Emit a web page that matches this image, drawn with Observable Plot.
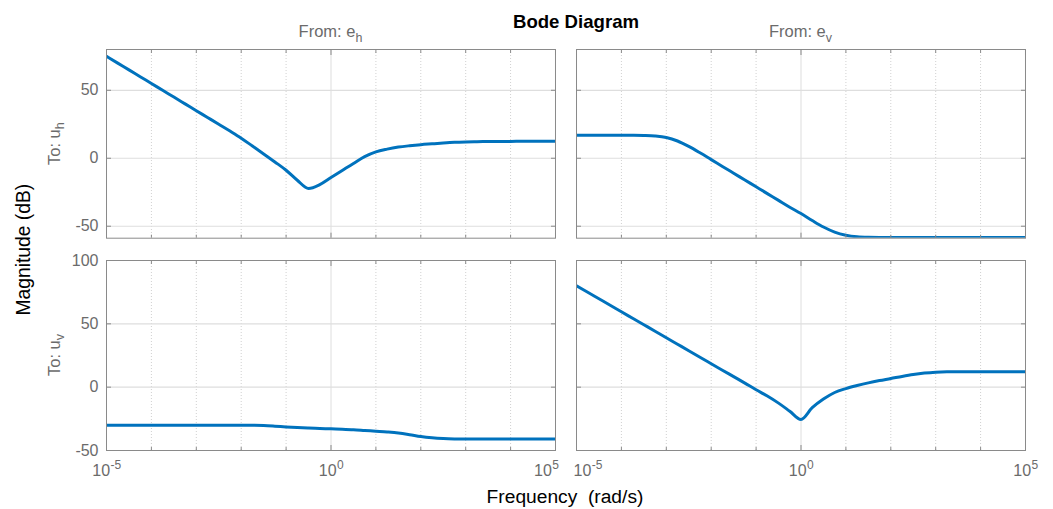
<!DOCTYPE html>
<html>
<head>
<meta charset="utf-8">
<script src="https://cdn.jsdelivr.net/npm/d3@7"></script>
<script src="https://cdn.jsdelivr.net/npm/@observablehq/plot@0.6"></script>
<style>
html, body { margin: 0; padding: 0; background: #fff; }
#chart { position: relative; width: 1053px; height: 509px; overflow: hidden; background: #fff;
  font-family: "Liberation Sans", Arial, Helvetica, sans-serif; }
#chart svg { position: absolute; }
</style>
</head>
<body>
<div id="chart"></div>
<script>
// ---------------- data ----------------
// log10 of frequency (rad/s)
const freqExp = [-5, -4.75, -4.5, -4.25, -4, -3.75, -3.5, -3.25, -3, -2.75, -2.5, -2.25, -2, -1.75, -1.5, -1.25, -1, -0.75, -0.5, -0.25,
  0, 0.25, 0.5, 0.75, 1, 1.25, 1.5, 1.75, 2, 2.25, 2.5, 2.75, 3, 3.25, 3.5, 3.75, 4, 4.25, 4.5, 4.75, 5];
// Magnitude (dB): From e_h To u_h
const uhFromEh = [75, 70, 65, 60, 55, 50, 45, 40, 35, 30, 25, 20, 14.8, 9, 3.2, -2.7, -8.8, -16.2, -22.2, -19.4,
  -14.2, -9, -3.8, 1.2, 4.7, 6.7, 8.2, 9.2, 10, 10.6, 11.2, 11.7, 12, 12.2, 12.3, 12.4, 12.4, 12.5, 12.5, 12.5, 12.5];
// From e_v To u_h
const uhFromEv = [17, 17, 17, 17, 17, 16.95, 16.8, 16.4, 15.3, 12.7, 8.7, 4, -1, -6, -11, -16, -21, -26, -31, -36,
  -40.7, -45.8, -50.6, -54.3, -56.6, -57.8, -58.2, -58.3, -58.3, -58.3, -58.3, -58.3, -58.3, -58.3, -58.3, -58.3, -58.3, -58.3, -58.3, -58.3, -58.3];
// From e_h To u_v
const uvFromEh = [-30, -30, -30, -30, -30, -30, -30, -30, -30, -30, -30, -30, -30, -30.1, -30.3, -30.8, -31.4, -31.9, -32.3, -32.6,
  -32.9, -33.2, -33.6, -34.2, -34.8, -35.4, -36.2, -37.5, -39, -40, -40.6, -40.9, -41, -41, -41, -41, -41, -41, -41, -41, -41];
// From e_v To u_v
const uvFromEv = [80, 74.9, 69.8, 64.7, 59.5, 54.4, 49.3, 44.2, 39, 33.9, 28.8, 23.6, 18.5, 13.4, 8.3, 3.2, -2, -7, -12.6, -19,
  -25.5, -16.2, -9.4, -4.2, -1.1, 1.3, 3.4, 5.2, 6.8, 8.5, 10, 11.1, 11.8, 12.1, 12.1, 12.1, 12.1, 12.1, 12.1, 12.1, 12.1];

const inputNames = ["h", "v"];   // From: e_h, e_v (columns)
const outputNames = ["h", "v"];  // To: u_h, u_v (rows)
const majorXTicks = [1e-5, 1e0, 1e5];
const minorXTicks = [1e-4, 1e-3, 1e-2, 1e-1, 1e1, 1e2, 1e3, 1e4];
const topYTicks = [-50, 0, 50];
const bottomYTicks = [-50, 0, 50, 100];
const topYDomain = [-58.8, 80];
const bottomYDomain = [-50, 100];
const xDomain = [1e-5, 1e5];

const titleText = "Bode Diagram";
const yLabelText = "Magnitude (dB)";
const xLabelText = "Frequency  (rad/s)";

// ---------------- styling / layout ----------------
const FONT = '"Liberation Sans", Arial, Helvetica, sans-serif';
const LINE = "#0072BD";
const AXIS = "#8a8a8a";
const TEXT = "#6b6b6b";
const GRID_MAJOR = "#dedede";
const GRID_MINOR = "#d0d0d0";
const W = 449;
const colX = [106, 576];
const rowY = [49.3, 260];
const rowH = [188.7, 190];
const TICK_FS = 16;
const EXP_FS = 12;

const chart = document.getElementById("chart");

const series = [
  {row: 0, col: 0, values: uhFromEh},
  {row: 0, col: 1, values: uhFromEv},
  {row: 1, col: 0, values: uvFromEh},
  {row: 1, col: 1, values: uvFromEv}
];

function charW(str, fs) {
  let w = 0;
  for (const ch of str) w += (ch === "-" ? 0.333 : 0.556) * fs;
  return w;
}

for (const s of series) {
  const data = freqExp.map((e, i) => ({f: Math.pow(10, e), db: s.values[i]}));
  const yTicks = s.row === 0 ? topYTicks : bottomYTicks;
  const yDomain = s.row === 0 ? topYDomain : bottomYDomain;
  const L = s.col === 0 ? 70 : 8, R = 8, T = 10, B = s.row === 1 ? 50 : 8;
  const H = rowH[s.row];
  const marks = [
    Plot.ruleX(minorXTicks, {stroke: GRID_MINOR, strokeDasharray: "1,2", strokeWidth: 1}),
    Plot.ruleX([1e0], {stroke: GRID_MAJOR, strokeWidth: 1}),
    Plot.ruleY(yTicks, {stroke: GRID_MAJOR, strokeWidth: 1.2}),
    Plot.line(data, {x: "f", y: "db", stroke: LINE, strokeWidth: 3, curve: "monotone-x", clip: true}),
    Plot.frame({stroke: AXIS, strokeWidth: 1}),
    Plot.axisX({anchor: "bottom", ticks: minorXTicks, tickSize: 3, dy: -3, fill: "none", stroke: AXIS, label: null}),
    Plot.axisX({anchor: "bottom", ticks: majorXTicks, tickSize: 5, dy: -5, fill: "none", stroke: AXIS, label: null}),
    Plot.axisX({anchor: "top", ticks: minorXTicks, tickSize: 3, dy: 3, fill: "none", stroke: AXIS, label: null}),
    Plot.axisX({anchor: "top", ticks: majorXTicks, tickSize: 5, dy: 5, fill: "none", stroke: AXIS, label: null}),
    Plot.axisY({anchor: "left", ticks: yTicks, tickSize: 5, dx: 5, fill: "none", stroke: AXIS, label: null}),
    Plot.axisY({anchor: "right", ticks: yTicks, tickSize: 5, dx: -5, fill: "none", stroke: AXIS, label: null})
  ];
  if (s.col === 0) {
    marks.push(Plot.axisY({anchor: "left", ticks: yTicks, tickSize: 0, tickPadding: 8,
      tickFormat: d => String(d), fill: TEXT, stroke: "none", label: null}));
  }
  if (s.row === 1) {
    for (const t of majorXTicks) {
      const exp = String(Math.round(Math.log10(t)));
      const baseW = charW("10", TICK_FS), expW = charW(exp, EXP_FS);
      const total = baseW + expW;
      let split = baseW - total / 2;   // where "10" ends relative to the tick
      if (s.col === 0 && t === xDomain[1]) split += -total / 2 + 3;
      if (s.col === 1 && t === xDomain[0]) split += total / 2 - 3;
      marks.push(Plot.text([t], {x: d => d, frameAnchor: "bottom", text: () => "10",
        textAnchor: "end", dx: split, dy: 25.5, fill: TEXT, fontSize: TICK_FS}));
      marks.push(Plot.text([t], {x: d => d, frameAnchor: "bottom", text: () => exp,
        textAnchor: "start", dx: split + 0.5, dy: 18.5, fill: TEXT, fontSize: EXP_FS}));
    }
  }
  const el = Plot.plot({
    width: W + L + R,
    height: H + T + B,
    marginLeft: L, marginRight: R, marginTop: T, marginBottom: B,
    x: {type: "log", domain: xDomain},
    y: {domain: yDomain},
    style: {background: "transparent", overflow: "visible", fontFamily: FONT, fontSize: TICK_FS + "px", color: TEXT},
    marks
  });
  el.style.left = (colX[s.col] - L) + "px";
  el.style.top = (rowY[s.row] - T) + "px";
  el.style.maxWidth = "none";
  chart.appendChild(el);
}

// ---------------- titles & labels ----------------
const ov = d3.select(chart).append("svg")
  .attr("width", 1053).attr("height", 509)
  .style("left", "0px").style("top", "0px").style("pointer-events", "none")
  .style("font-family", FONT);

ov.append("text").attr("x", 576).attr("y", 28).attr("text-anchor", "middle")
  .attr("font-size", 18.6).attr("font-weight", "bold").attr("fill", "#000").text(titleText);

inputNames.forEach((n, c) => {
  const t = ov.append("text").attr("x", colX[c] + W / 2).attr("y", 37).attr("text-anchor", "middle")
    .attr("font-size", 16.5).attr("fill", TEXT);
  t.append("tspan").text("From: e");
  t.append("tspan").attr("font-size", 12.5).attr("dy", 5).text(n);
});

outputNames.forEach((n, r) => {
  const cy = rowY[r] + rowH[r] / 2;
  const t = ov.append("text").attr("transform", `translate(60,${cy}) rotate(-90)`)
    .attr("text-anchor", "middle").attr("font-size", 16.5).attr("fill", TEXT);
  t.append("tspan").text("To: u");
  t.append("tspan").attr("font-size", 12.5).attr("dy", 4).text(n);
});

ov.append("text").attr("transform", `translate(30,${(rowY[0] + rowY[1] + rowH[1]) / 2}) rotate(-90)`)
  .attr("text-anchor", "middle").attr("font-size", 19.3).attr("fill", "#000").text(yLabelText);

ov.append("text").attr("x", 565).attr("y", 503).attr("text-anchor", "middle")
  .attr("font-size", 19.2).attr("fill", "#000").style("white-space", "pre").attr("xml:space", "preserve").text(xLabelText);
</script>
</body>
</html>
